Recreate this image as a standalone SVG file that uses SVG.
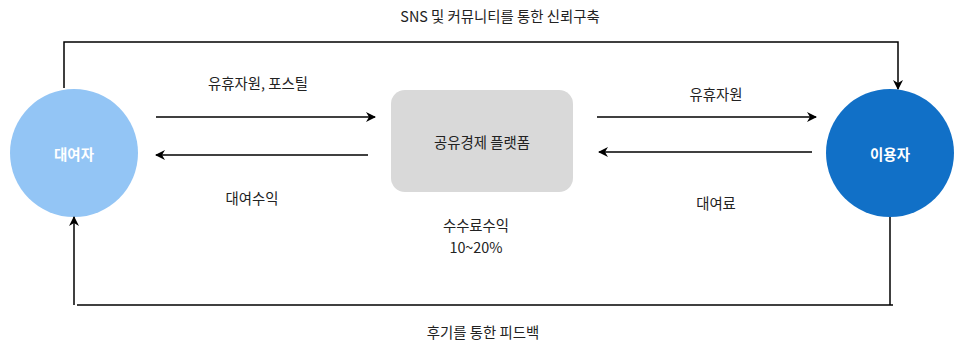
<svg xmlns="http://www.w3.org/2000/svg" width="955" height="345" viewBox="0 0 955 345">
<defs>
<marker id="ah" viewBox="0 0 10 10" refX="9" refY="5" markerWidth="10" markerHeight="10" markerUnits="userSpaceOnUse" orient="auto">
<path d="M0,0 L10,5 L0,10 L3,5 Z" fill="#000"/>
</marker>
<style>
text{font-family:"Noto Sans CJK KR","Noto Sans",sans-serif;font-size:14.4px;fill:#222;text-anchor:middle;dominant-baseline:central}
.w{fill:#fff;font-weight:bold;font-size:14.5px}
.c{fill:none;stroke:#000;stroke-width:1.5}
</style>
</defs>
<rect width="955" height="345" fill="#fff"/>
<g id="lender"><circle cx="74" cy="153" r="64" fill="#93C5F5"/><text class="w" x="74" y="153">대여자</text></g>
<g id="platform"><rect x="391" y="90" width="182" height="102" rx="14" fill="#D9D9D9"/><text x="482" y="141">공유경제 플랫폼</text></g>
<g id="user"><circle cx="890" cy="153" r="64" fill="#1170C7"/><text class="w" x="890" y="153">이용자</text></g>
<g id="connectors">
<path class="c" d="M156,117 H375" marker-end="url(#ah)"/>
<path class="c" d="M368,155 H156" marker-end="url(#ah)"/>
<path class="c" d="M597,117 H816" marker-end="url(#ah)"/>
<path class="c" d="M812,152 H599" marker-end="url(#ah)"/>
<path class="c" d="M64,88 V42 H898 V89" marker-end="url(#ah)"/>
<path class="c" d="M890,217 V305"/>
<path class="c" d="M893,305 H77"/>
<path class="c" d="M74,305 V217" marker-end="url(#ah)"/>
</g>
<g id="labels">
<text x="500" y="15">SNS 및 커뮤니티를 통한 신뢰구축</text>
<text x="258" y="82">유휴자원, 포스틸</text>
<text x="252" y="197">대여수익</text>
<text x="476" y="224">수수료수익</text>
<text x="476" y="246">10~20%</text>
<text x="716" y="93">유휴자원</text>
<text x="716" y="202">대여료</text>
<text x="483" y="331">후기를 통한 피드백</text>
</g>
</svg>
